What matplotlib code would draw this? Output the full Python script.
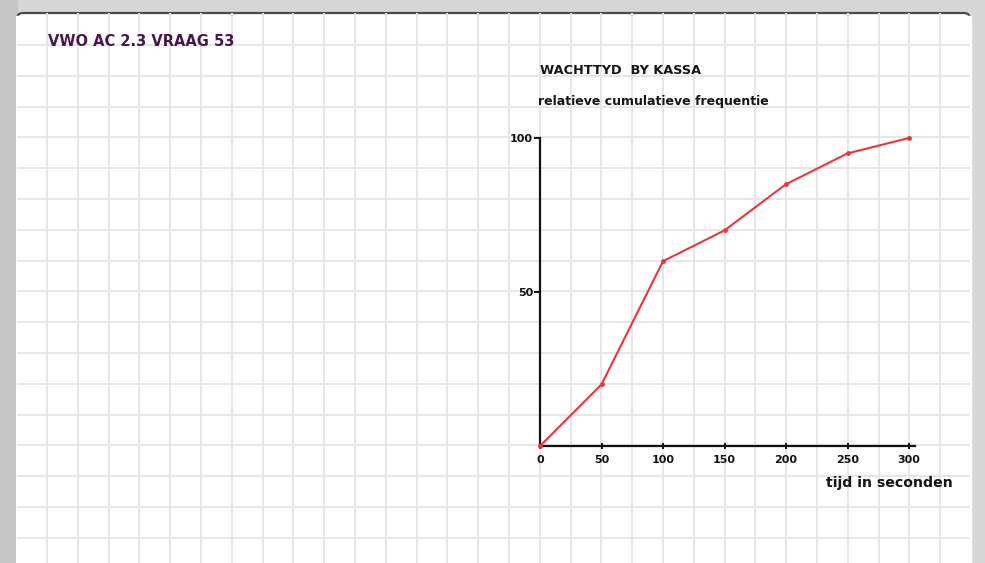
import matplotlib
matplotlib.use("Agg")
import matplotlib.pyplot as plt
import numpy as np
from matplotlib.patches import Rectangle, FancyBboxPatch

# data
tijd = [0, 50, 100, 150, 200, 250, 300]
cum_freq = [0, 20, 60, 70, 85, 95, 100]
x_ticks = [0, 50, 100, 150, 200, 250, 300]
y_ticks = [50, 100]

W, H = 985, 563
fig = plt.figure(figsize=(W / 100, H / 100), dpi=100)
fig.patch.set_facecolor('#d6d6d6')

# background "paper" with squared grid, in pixel coords
bg = fig.add_axes([0, 0, 1, 1])
bg.set_xlim(0, W)
bg.set_ylim(H, 0)
bg.axis('off')
bg.add_patch(Rectangle((0, 0), 17, H, color='#c6c6c6', zorder=0))
bg.add_patch(FancyBboxPatch((17, 13), 953, H, boxstyle='round,pad=0,rounding_size=6',
                            facecolor='white', edgecolor='#4a4a4a', linewidth=1.6, zorder=1))
bg.add_patch(Rectangle((16, 16), 955, H, color='white', zorder=1.5))
for gx in np.arange(47, 970, 30.8):
    bg.plot([gx, gx], [14, H], color='#e6e6e6', lw=1.4, zorder=2)
for gy in np.arange(45, H, 30.8):
    bg.plot([18, 969], [gy, gy], color='#e6e6e6', lw=1.4, zorder=2)

bg.text(48, 41, 'VWO AC 2.3 VRAAG 53', color='#4b1550', fontsize=10.5,
        fontweight='bold', va='center', ha='left', zorder=3)
bg.text(540, 71, 'WACHTTYD  BY KASSA', color='#151515', fontsize=9.3,
        fontweight='bold', va='center', ha='left', zorder=3)
bg.text(538, 101, 'relatieve cumulatieve frequentie', color='#151515', fontsize=9,
        fontweight='bold', va='center', ha='left', zorder=3)
bg.text(889, 483, 'tijd in seconden', color='#151515', fontsize=10.2,
        fontweight='bold', va='center', ha='center', zorder=3)

# the chart itself
x0, x1 = 540, 915
y0, y1 = 446, 138
ax = fig.add_axes([x0 / W, (H - y0) / H, (x1 - x0) / W, (y0 - y1) / H])
ax.patch.set_alpha(0)
ax.set_xlim(0, 300 * (x1 - x0) / (909 - x0))
ax.set_ylim(0, 100)
ax.plot(tijd, cum_freq, color='#e8383d', lw=1.5, marker='o', markersize=2.5,
        zorder=5, clip_on=False)

for s in ['top', 'right']:
    ax.spines[s].set_visible(False)
for s in ['left', 'bottom']:
    ax.spines[s].set_color('#111111')
    ax.spines[s].set_linewidth(1.6)

ax.set_xticks(x_ticks)
ax.set_xticklabels([str(t) for t in x_ticks])
ax.set_yticks(y_ticks)
ax.set_yticklabels([str(t) for t in y_ticks])
ax.tick_params(axis='x', direction='inout', length=5, width=1.4, pad=4,
               labelsize=8, colors='#111111')
ax.tick_params(axis='y', direction='out', length=4, width=1.4, pad=1,
               labelsize=8, colors='#111111')
for lab in ax.get_xticklabels() + ax.get_yticklabels():
    lab.set_fontweight('bold')

fig.savefig('out.png', dpi=100, facecolor=fig.get_facecolor())
